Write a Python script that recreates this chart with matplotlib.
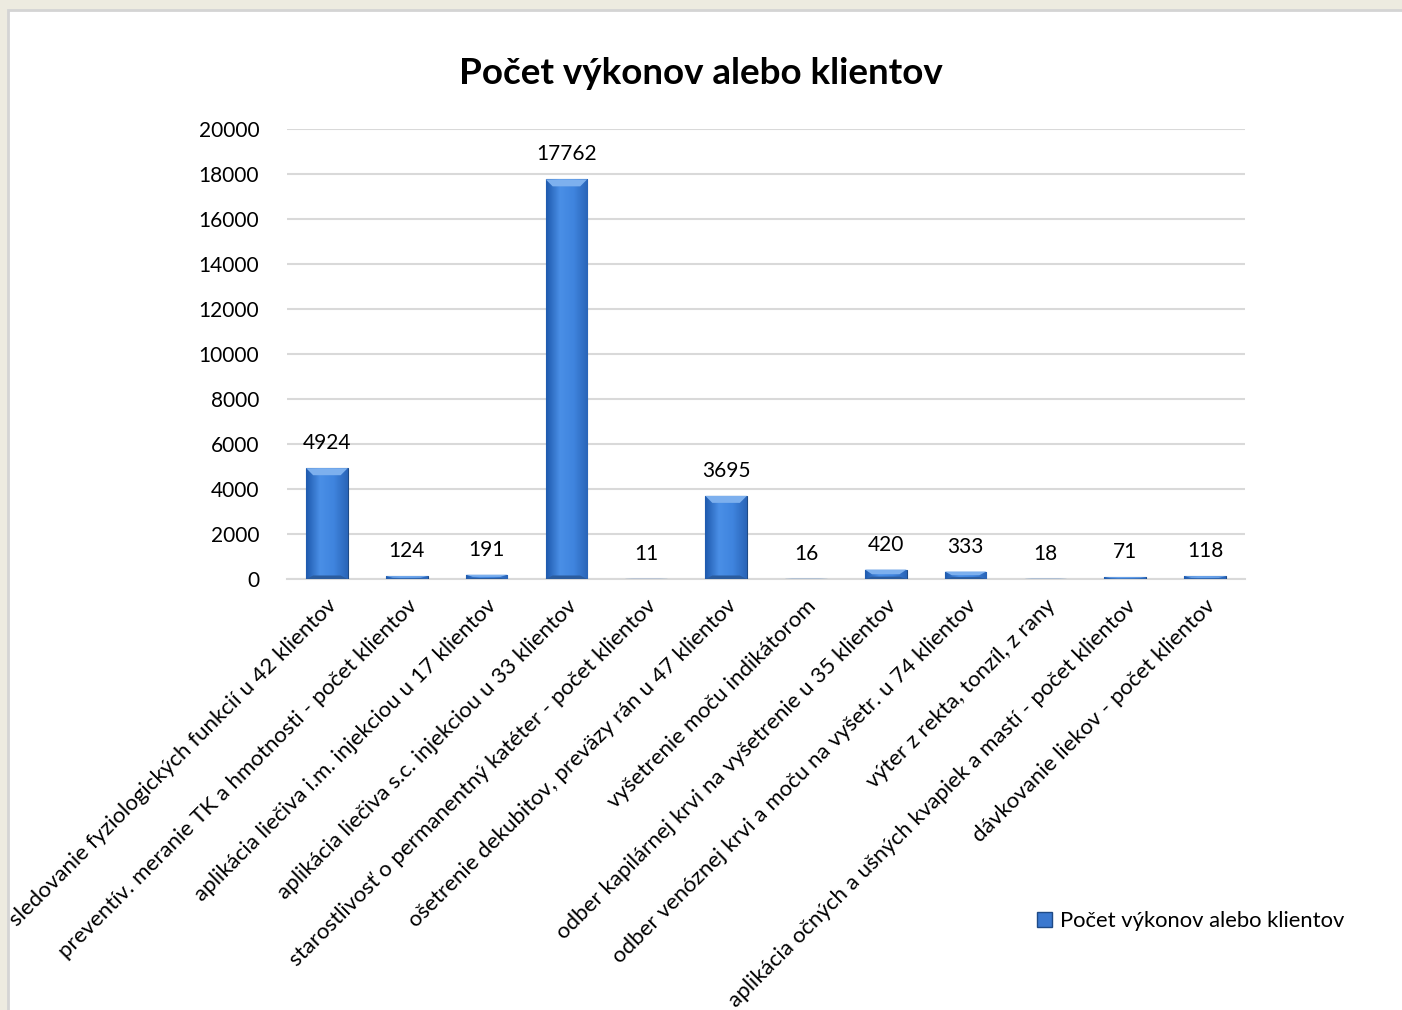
import numpy as np
import matplotlib.pyplot as plt
from matplotlib.patches import Rectangle, Polygon
from matplotlib.colors import LinearSegmentedColormap

plt.rcParams['font.family'] = ['Lato', 'DejaVu Sans']

# data
categories = [
    "sledovanie fyziologických funkcií u 42 klientov",
    "preventív. meranie TK a hmotnosti - počet klientov",
    "aplikácia liečiva i.m. injekciou u 17 klientov",
    "aplikácia liečiva s.c. injekciou u 33 klientov",
    "starostlivosť o permanentný katéter - počet klientov",
    "ošetrenie dekubitov, preväzy rán u 47 klientov",
    "vyšetrenie moču indikátorom",
    "odber kapilárnej krvi na vyšetrenie u 35 klientov",
    "odber venóznej krvi a moču na vyšetr. u 74 klientov",
    "výter z rekta, tonzíl, z rany",
    "aplikácia očných a ušných kvapiek a mastí - počet klientov",
    "dávkovanie liekov - počet klientov",
]
values = [4924, 124, 191, 17762, 11, 3695, 16, 420, 333, 18, 71, 118]
series_name = "Počet výkonov alebo klientov"
title = "Počet výkonov alebo klientov"
yticks = np.arange(0, 20001, 2000)

fig = plt.figure(figsize=(14.02, 10.10), dpi=100)
fig.patch.set_facecolor('#EDEBE0')
# white chart area with light border
fig.patches.append(Rectangle((8/1402, -0.05), 1.1, 1 - 10/1010 + 0.05,
                             transform=fig.transFigure, facecolor='white',
                             edgecolor='#D4D4D4', linewidth=2, zorder=-1))

ax = fig.add_axes([287/1402, 431/1010, 958/1402, 450/1010])
ax.set_facecolor('white')
x = np.arange(len(categories))
bw = 0.52
bars = ax.bar(x, values, width=bw, color='#3A78CF', edgecolor='#1E4A86',
              linewidth=0.8, zorder=3, label=series_name)

# bevel look: horizontal gradient + lighter top facet
cmap = LinearSegmentedColormap.from_list('bev', ['#1F5AAE', '#4A8FE6', '#3F84DE', '#2A65B8'])
grad = np.linspace(0, 1, 64).reshape(1, -1)
px_x = 1 / 79.8          # category units per pixel
px_y = 20000 / 450       # data units per pixel
for b in bars:
    x0, w, h = b.get_x(), b.get_width(), b.get_height()
    im = ax.imshow(grad, extent=(x0, x0 + w, 0, h), aspect='auto', cmap=cmap,
                   zorder=3.5, interpolation='bicubic')
    im.set_clip_path(b)
    dx = min(7 * px_x, w / 2)
    dy = min(7 * px_y, h / 2)
    ax.add_patch(Polygon([(x0, h), (x0 + w, h), (x0 + w - dx, h - dy), (x0 + dx, h - dy)],
                         closed=True, facecolor='#7DB0EE', edgecolor='none', zorder=3.6))
    ax.add_patch(Polygon([(x0, 0), (x0 + w, 0), (x0 + w - dx, dy / 2), (x0 + dx, dy / 2)],
                         closed=True, facecolor='#2B5C9E', edgecolor='none', zorder=3.6))
    ax.annotate(f"{int(h)}", (b.get_x() + w / 2, h), xytext=(0, 18),
                textcoords='offset points', ha='center', va='center',
                fontsize=15, color='black')

ax.set_xlim(-0.5, len(categories) - 0.5)
ax.set_ylim(0, 20000)
ax.set_yticks(yticks)
ax.set_yticklabels([str(v) for v in yticks], fontsize=15)
ax.yaxis.grid(True, color='#D9D9D9', linewidth=1.5, zorder=0)
ax.set_axisbelow(True)
ax.tick_params(axis='both', length=0, pad=20)
for s in ['top', 'right', 'left']:
    ax.spines[s].set_visible(False)
ax.spines['bottom'].set_color('#D9D9D9')
ax.spines['bottom'].set_linewidth(1.5)

ax.set_xticks(x)
ax.set_xticklabels(categories, rotation=45, ha='right', rotation_mode='anchor',
                   fontsize=16)
ax.tick_params(axis='x', pad=12)

fig.text(701/1402, 1 - 73/1010, title, ha='center', va='center',
         fontsize=26.5, fontweight='bold')

fig.legend(handles=[Rectangle((0, 0), 1, 1, facecolor='#3A78CF', edgecolor='#1E4A86')],
           labels=[series_name], loc='center left',
           bbox_to_anchor=(1017/1402, 1 - 921/1010), frameon=False, fontsize=15.8,
           handlelength=0.7, handleheight=0.7, handletextpad=0.35)

fig.savefig('out.png', dpi=100, facecolor=fig.get_facecolor())
